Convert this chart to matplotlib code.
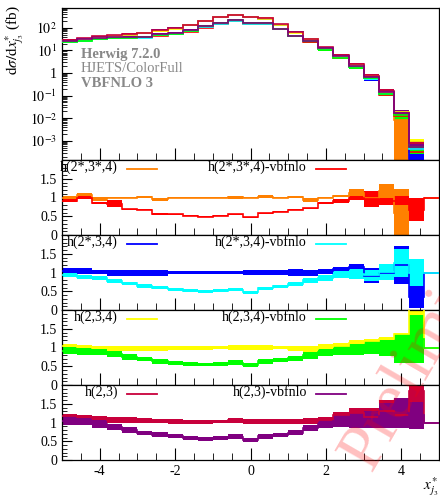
import numpy as np
import matplotlib
matplotlib.use("Agg")
import matplotlib.pyplot as plt
from matplotlib.ticker import FixedLocator, MultipleLocator, LogLocator, NullFormatter

plt.rcParams['font.family'] = ['Liberation Serif', 'DejaVu Serif']
plt.rcParams['mathtext.fontset'] = 'stix'
plt.rcParams['axes.unicode_minus'] = False
plt.rcParams['font.size'] = 10

# binning: 0.4 wide bins from -5 to 5 (last one empty)
edges = np.linspace(-5.0, 5.0, 26)

# reference cross section per bin (fb), bins up to 4.6
ref = [25, 30, 37, 43, 49, 57, 77, 93, 132, 207, 286, 358, 300, 255, 138, 62,
       31.5, 12.7, 5.2, 1.95, 0.62, 0.12, 0.014, 4.5e-4]

nan = np.nan
# ratios to reference: central value and half width of the band
r_234s_c = [1.0, 1.06, 0.96, 1.0, 1.0, 1.02, 0.96, 1.0, 1.0, 1.0, 1.0, 1.01, 1.0,
            1.02, 1.0, 1.01, 0.93, 1.0, 1.04, 1.13, 1.0, 1.17, 0.6, nan, 1.0]
r_234s_e = [0.05, 0.05, 0.06, 0.02, 0.015, 0.03, 0.04, 0.015, 0.02, 0.015, 0.015, 0.04, 0.015,
            0.04, 0.02, 0.02, 0.06, 0.01, 0.03, 0.11, 0.15, 0.18, 0.63, nan, 0.0]
r_234s_v_c = [0.91, 1.0, 0.86, 0.84, 0.69, 0.67, 0.56, 0.55, 0.51, 0.49, 0.52, 0.55, 0.47,
              0.58, 0.62, 0.68, 0.71, 0.86, 0.91, 0.98, 0.96, 0.9, 0.92, 0.68, 1.0]
r_234s_v_e = [0.04, 0.05, 0.025, 0.09, 0.015, 0.015, 0.015, 0.015, 0.015, 0.015, 0.015, 0.015, 0.015,
              0.015, 0.015, 0.015, 0.02, 0.02, 0.05, 0.05, 0.21, 0.1, 0.12, 0.31, 0.0]

r_23s4_c = [1.03, 1.04, 1.01, 0.99, 1.0, 1.0, 1.0, 1.0, 1.0, 1.0, 1.0, 1.0, 1.0,
            1.0, 1.0, 1.0, 0.98, 1.03, 1.09, 1.15, 0.92, 1.0, 1.2, 0.36, 1.0]
r_23s4_e = [0.08, 0.07, 0.06, 0.08, 0.08, 0.08, 0.08, 0.05, 0.05, 0.05, 0.05, 0.05, 0.06,
            0.06, 0.06, 0.09, 0.08, 0.07, 0.07, 0.08, 0.19, 0.15, 0.5, 0.3, 0.0]
r_23s4_v_c = [0.93, 0.88, 0.85, 0.78, 0.71, 0.65, 0.6, 0.56, 0.52, 0.5, 0.52, 0.54, 0.47,
              0.58, 0.63, 0.69, 0.79, 0.86, 0.94, 0.96, 0.93, 1.01, 1.25, 1.0, 1.0]
r_23s4_v_e = [0.06, 0.05, 0.05, 0.05, 0.05, 0.05, 0.045, 0.04, 0.04, 0.04, 0.04, 0.04, 0.04,
              0.04, 0.04, 0.045, 0.06, 0.08, 0.09, 0.13, 0.15, 0.21, 0.38, 0.35, 0.0]

r_234_c = [1.04, 1.02, 0.99, 0.98, 0.98, 0.98, 0.98, 0.99, 0.99, 0.99, 1.0, 1.0, 1.0,
           1.0, 1.0, 0.97, 0.96, 1.02, 1.05, 1.12, 1.18, 1.22, 1.35, 2.2, 1.0]
r_234_e = [0.06, 0.05, 0.06, 0.06, 0.06, 0.06, 0.06, 0.05, 0.05, 0.05, 0.05, 0.06, 0.06,
           0.06, 0.05, 0.06, 0.07, 0.07, 0.08, 0.07, 0.06, 0.05, 0.04, 0.33, 0.0]
r_234_v_c = [0.92, 0.9, 0.87, 0.83, 0.75, 0.69, 0.63, 0.59, 0.57, 0.55, 0.57, 0.6, 0.53,
             0.63, 0.67, 0.71, 0.79, 0.87, 0.91, 0.95, 1.0, 0.98, 0.97, 1.22, 1.0]
r_234_v_e = [0.09, 0.09, 0.08, 0.08, 0.07, 0.06, 0.06, 0.05, 0.05, 0.05, 0.05, 0.06, 0.045,
             0.06, 0.06, 0.065, 0.09, 0.1, 0.12, 0.15, 0.17, 0.21, 0.38, 0.64, 0.0]

r_23_c = [1.17, 1.15, 1.11, 1.07, 1.06, 1.05, 1.04, 1.03, 1.02, 1.01, 1.03, 1.06, 1.02,
          1.02, 1.02, 1.02, 1.03, 1.08, 1.19, 1.26, 1.15, 1.3, 1.2, 1.85, 1.0]
r_23_e = [0.05, 0.06, 0.06, 0.08, 0.08, 0.07, 0.06, 0.06, 0.05, 0.045, 0.05, 0.07, 0.065,
          0.065, 0.065, 0.065, 0.08, 0.075, 0.1, 0.12, 0.23, 0.3, 0.35, 0.3, 0.0]
r_23_v_c = [1.05, 1.03, 0.96, 0.88, 0.79, 0.72, 0.68, 0.64, 0.59, 0.57, 0.58, 0.62, 0.53,
            0.63, 0.67, 0.73, 0.86, 0.96, 1.04, 1.05, 1.08, 1.18, 1.25, 1.2, 1.0]
r_23_v_e = [0.12, 0.1, 0.1, 0.08, 0.08, 0.065, 0.06, 0.055, 0.05, 0.05, 0.05, 0.07, 0.055,
            0.06, 0.06, 0.065, 0.08, 0.11, 0.15, 0.2, 0.22, 0.33, 0.4, 0.36, 0.0]

# (label, colour, ratio centre, ratio error), grouped by ratio panel
panels = [
    [("h(2*,3*,4)", "#ff8000", r_234s_c, r_234s_e),
     ("h(2*,3*,4)-vbfnlo", "#ff0000", r_234s_v_c, r_234s_v_e)],
    [("h(2*,3,4)", "#0000ff", r_23s4_c, r_23s4_e),
     ("h(2*,3,4)-vbfnlo", "#00ffff", r_23s4_v_c, r_23s4_v_e)],
    [("h(2,3,4)", "#ffff00", r_234_c, r_234_e),
     ("h(2,3,4)-vbfnlo", "#00ff00", r_234_v_c, r_234_v_e)],
    [("h(2,3)", "#c8003c", r_23_c, r_23_e),
     ("h(2,3)-vbfnlo", "#800080", r_23_v_c, r_23_v_e)],
]


def band(ax, lo, hi, val, col, log=False):
    n = len(val)
    e = edges[:n + 1]
    lo = np.asarray(lo, float)
    hi = np.asarray(hi, float)
    if log:
        lo = np.clip(lo, 1e-9, None)
    ax.bar(e[:-1], hi - lo, bottom=lo, width=np.diff(e), align='edge',
           color=col, linewidth=0, zorder=2)
    ax.stairs(val, e, color=col, linewidth=1.2, baseline=None, zorder=3)


W, H = 440, 501
fig = plt.figure(figsize=(W / 100, H / 100), dpi=100)
left, right = 62, 439


def rect(top, bot):
    return [left / W, 1 - bot / H, (right - left) / W, (bot - top) / H]


ax0 = fig.add_axes(rect(8, 160))
rax = [fig.add_axes(rect(160 + 75 * i, 235 + 75 * i), sharex=ax0) for i in range(4)]

# main panel: absolute distributions
ref_a = np.array(ref)
for pan in panels:
    for lab, col, c, e in pan:
        c = np.array(c[:len(ref)])
        e = np.array(e[:len(ref)])
        band(ax0, ref_a * (c - e), ref_a * (c + e), ref_a * c, col, log=True)

ax0.set_yscale('log')
ax0.set_ylim(1.4e-4, 750)
ax0.set_xlim(-5, 5)
ax0.yaxis.set_major_locator(FixedLocator([1e-3, 1e-2, 1e-1, 1, 10, 100]))
ax0.set_yticklabels([r'$10^{-3}$', r'$10^{-2}$', r'$10^{-1}$', '1', r'$10^{1}$', r'$10^{2}$'])
ax0.yaxis.set_minor_locator(LogLocator(subs=np.arange(2, 10), numticks=20))
ax0.yaxis.set_minor_formatter(NullFormatter())

fig.text(15 / W, 1 - 5 / H, r'$\mathrm{d}\sigma/\mathrm{d}x^{*}_{j_3}$ (fb)',
         rotation=90, ha='center', va='top', fontsize=11)

ax0.text(0.05, 0.695, "Herwig 7.2.0", transform=ax0.transAxes, color='#888888',
         fontweight='bold', fontsize=10.5, va='center')
ax0.text(0.05, 0.6, "HJETS/ColorFull", transform=ax0.transAxes, color='#888888',
         fontsize=10.5, va='center')
ax0.text(0.05, 0.505, "VBFNLO 3", transform=ax0.transAxes, color='#888888',
         fontweight='bold', fontsize=10.5, va='center')

# ratio panels
for ax, pan in zip(rax, panels):
    for lab, col, c, e in pan:
        c = np.array(c)
        e = np.array(e)
        band(ax, c - e, c + e, c, col)
    ax.set_ylim(0, 2.0)
    ax.yaxis.set_major_locator(FixedLocator([0, 0.5, 1, 1.5]))
    ax.set_yticklabels(['0', '0.5', '1', '1.5'])
    ax.yaxis.set_minor_locator(FixedLocator(np.arange(0.1, 2.0, 0.1)))
    (l1, c1, _, _), (l2, c2, _, _) = pan
    ax.text(0.1485, 0.9, l1, transform=ax.transAxes, ha='right', va='center', fontsize=10)
    ax.plot([0.172, 0.252], [0.88, 0.88], transform=ax.transAxes, color=c1, lw=1.3)
    ax.text(0.65, 0.9, l2, transform=ax.transAxes, ha='right', va='center', fontsize=10)
    ax.plot([0.674, 0.753], [0.88, 0.88], transform=ax.transAxes, color=c2, lw=1.3)

for ax in [ax0] + rax:
    ax.xaxis.set_major_locator(MultipleLocator(2))
    ax.xaxis.set_minor_locator(MultipleLocator(0.5))
    ax.tick_params(which='both', direction='in', top=False, right=False, labelsize=10)
    ax.tick_params(which='major', axis='x', length=9)
    ax.tick_params(which='minor', axis='x', length=5)
    ax.tick_params(which='major', axis='y', length=7)
    ax.tick_params(which='minor', axis='y', length=3.5)
    for s in ax.spines.values():
        s.set_linewidth(0.9)
    if ax is not rax[-1]:
        ax.tick_params(labelbottom=False)

rax[-1].set_xlim(-5, 5)
fig.text(438 / W, 1 - 498 / H, r'$x^{*}_{j_3}$', ha='right', va='bottom', fontsize=11)

fig.text(330 / W, 1 - 480 / H, "Preliminary", rotation=60, fontsize=48,
         color='#ff0000', alpha=0.25, ha='left', va='bottom')

fig.savefig("out.png", dpi=100)
